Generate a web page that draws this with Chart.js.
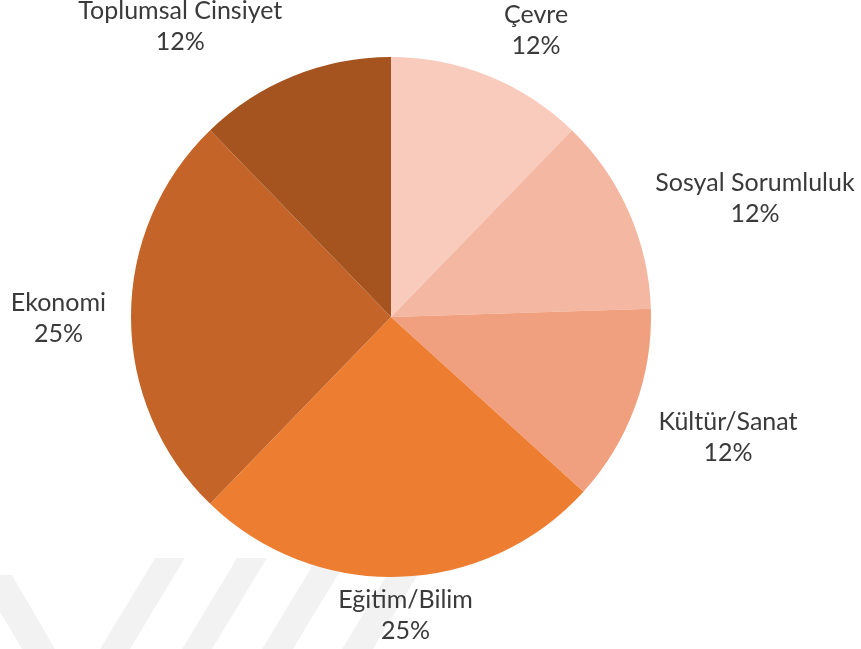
<!DOCTYPE html>
<html>
<head>
<meta charset="utf-8">
<script src="https://cdn.jsdelivr.net/npm/chart.js@4/dist/chart.umd.min.js"></script>
<style>
  html, body { margin: 0; padding: 0; background: #ffffff; }
  #wrap { width: 861px; height: 649px; position: relative; }
</style>
</head>
<body>
<div id="wrap"><canvas id="c" width="861" height="649"></canvas></div>
<script>
// Share of topics (percent), listed clockwise from 12 o'clock
const categories = ['Çevre', 'Sosyal Sorumluluk', 'Kültür/Sanat', 'Eğitim/Bilim', 'Ekonomi', 'Toplumsal Cinsiyet'];
const shares = [12, 12, 12, 25, 25, 12];
const sliceColors = ['#F8CBBD', '#F4B7A2', '#F0A07E', '#ED7D31', '#C46428', '#A5541F'];

const FONT = '25px Lato, "Open Sans", sans-serif';

// Faint diagonal bands in the lower part of the page background
const backdrop = {
  id: 'backdrop',
  beforeDraw(chart) {
    const ctx = chart.ctx;
    ctx.save();
    ctx.fillStyle = 'rgba(0,0,0,0.05)';
    const top = 558, bot = 649, shift = 55;
    const bands = [[155, 185], [237, 267], [317, 348], [397, 428]];
    bands.forEach(([a, b]) => {
      ctx.beginPath();
      ctx.moveTo(a, top); ctx.lineTo(b, top);
      ctx.lineTo(b - shift, bot); ctx.lineTo(a - shift, bot);
      ctx.closePath(); ctx.fill();
    });
    ctx.beginPath();
    ctx.moveTo(0, 575); ctx.lineTo(12, 575);
    ctx.lineTo(55, bot); ctx.lineTo(22, bot);
    ctx.lineTo(0, 612);
    ctx.closePath(); ctx.fill();
    ctx.restore();
  }
};

// Category name and percentage placed just outside each slice,
// kept inside the canvas
const outsideLabels = {
  id: 'outsideLabels',
  afterDraw(chart) {
    const ctx = chart.ctx;
    const meta = chart.getDatasetMeta(0);
    const data = chart.data.datasets[0].data;
    ctx.save();
    ctx.font = FONT;
    ctx.fillStyle = '#3a3a3a';
    ctx.textAlign = 'center';
    ctx.textBaseline = 'middle';
    const lineGap = 31;
    meta.data.forEach((arc, i) => {
      const p = arc.getProps(['x', 'y', 'startAngle', 'endAngle', 'outerRadius'], true);
      const mid = (p.startAngle + p.endAngle) / 2;
      const ux = Math.cos(mid), uy = Math.sin(mid);
      const r = p.outerRadius + 17;
      const ax = p.x + ux * r, ay = p.y + uy * r;
      const l1 = chart.data.labels[i];
      const l2 = data[i] + '%';
      const w = Math.max(ctx.measureText(l1).width, ctx.measureText(l2).width);
      const kx = Math.max(-1, Math.min(1, ux * 2.5));
      const upper = uy < 0 ? 25 * ux * uy * uy : 0;
      const cx = ax + kx * w / 2 + ux * 8 + upper;
      let cy = ay + uy * 41 + 6 + 5 * ux;
      cy = Math.min(cy, chart.height - 34);
      ctx.fillText(l1, cx, cy - lineGap / 2);
      ctx.fillText(l2, cx, cy + lineGap / 2);
    });
    ctx.restore();
  }
};

new Chart(document.getElementById('c'), {
  type: 'pie',
  data: {
    labels: categories,
    datasets: [{
      data: shares,
      backgroundColor: sliceColors,
      borderWidth: 0
    }]
  },
  options: {
    responsive: false,
    animation: false,
    layout: { padding: { top: 57, bottom: 72, left: 131, right: 210 } },
    plugins: {
      legend: { display: false },
      tooltip: { enabled: false }
    }
  },
  plugins: [backdrop, outsideLabels]
});
</script>
</body>
</html>
